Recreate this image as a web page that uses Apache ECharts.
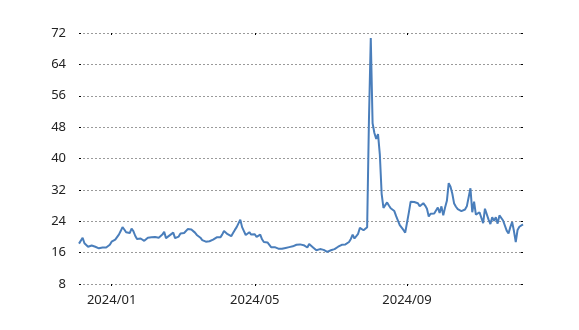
<!DOCTYPE html>
<html>
<head>
<meta charset="utf-8">
<script src="https://cdn.jsdelivr.net/npm/echarts@6/dist/echarts.min.js"></script>
<style>
html,body{margin:0;padding:0;background:#fff;}
#chart{width:579px;height:330px;}
</style>
</head>
<body>
<div id="chart"></div>
<script>
// Trading-day calendar (weekdays minus exchange holidays)
const startDate = '2023-12-06';
const holidays = ['2024-01-01','2024-01-02','2024-01-03','2024-01-08','2024-02-12','2024-02-23',
  '2024-03-20','2024-04-29','2024-05-03','2024-05-06','2024-07-15','2024-08-12','2024-09-16',
  '2024-09-23','2024-10-14','2024-11-04'];
const labelMonths = [1, 5, 9];
const yTicks = [8, 16, 24, 32, 40, 48, 56, 64, 72];

// Index values
const values = [
  18.3,18.8,19.8,18.4,18.2,17.5,18.0,17.8,18.3,17.5,17.0,17.1,17.0,17.3,17.1,17.3,17.6,18.0,18.8,18.6,
  19.3,19.8,20.6,21.5,22.5,21.9,21.2,20.7,21.0,22.1,21.5,20.3,19.5,19.8,19.6,19.3,19.0,19.2,19.8,20.1,
  19.9,20.0,20.0,19.5,
  19.8,20.0,20.6,21.3,19.7,19.8,20.4,20.2,21.1,19.7,19.3,20.1,20.9,21.0,21.0,21.5,22.0,22.1,21.9,21.5,
  21.1,20.5,20.3,19.8,19.2,18.8,18.8,18.7,18.9,18.8,19.3,19.6,19.9,20.1,19.9,20.6,21.5,21.0,20.7,20.6,
  20.2,21.0,21.8,
  22.5,22.6,24.4,22.5,21.5,20.5,20.3,21.2,20.6,20.7,20.7,20.0,19.6,20.6,19.4,18.7,18.6,18.6,18.6,17.4,
  17.2,17.4,17.4,17.0,17.2,17.0,16.8,17.2,17.4,17.4,17.4,17.6,17.8,18.0,18.0,18.1,18.0,17.9,17.7,17.3,
  18.2,17.9,17.4,17.0,
  16.6,16.9,16.9,16.9,16.7,16.3,16.2,16.3,16.6,17.1,16.9,17.3,17.5,17.7,18.0,18.5,18.1,18.0,18.7,19.5,
  20.6,19.6,19.2,20.8,22.3,22.0,21.7,21.7,22.5,50.0,70.7,49.0,46.5,45.0,46.2,41.0,31.0,27.4,
  27.2,28.8,28.0,27.3,27.2,26.6,25.3,24.8,23.0,22.8,21.8,21.1,20.8,26.2,29.0,29.2,28.9,28.7,28.6,27.8,
  28.3,28.6,28.0,27.2,25.2,25.9,25.6,26.0,26.4,27.5,26.1,27.8,25.5,27.5,29.2,33.7,32.8,31.0,28.5,
  27.7,27.1,26.9,26.6,26.5,27.0,27.8,28.2,32.4,26.3,29.0,25.7,25.9,26.3,26.2,23.5,27.2,26.8,24.4,23.3,
  25.0,24.1,25.0,23.4,25.5,26.0,24.2,24.2,21.6,20.9,22.5,23.8,21.5,18.7,21.8,22.6,23.0,23.2
];

function pad(n){ return (n < 10 ? '0' : '') + n; }
function buildDates(start, count) {
  const out = [];
  const d = new Date(start + 'T00:00:00Z');
  while (out.length < count) {
    const wd = d.getUTCDay();
    const s = d.getUTCFullYear() + '-' + pad(d.getUTCMonth() + 1) + '-' + pad(d.getUTCDate());
    if (wd !== 0 && wd !== 6 && holidays.indexOf(s) < 0) out.push(s);
    d.setUTCDate(d.getUTCDate() + 1);
  }
  return out;
}
const dates = buildDates(startDate, values.length);

function isLabelIdx(index) {
  if (index === 0) return false;
  const m = +dates[index].slice(5, 7);
  const pm = +dates[index - 1].slice(5, 7);
  return m !== pm && labelMonths.indexOf(m) >= 0;
}

const font = 'Noto Sans';
const chart = echarts.init(document.getElementById('chart'), null, {renderer: 'canvas'});
chart.setOption({
  animation: false,
  backgroundColor: '#ffffff',
  grid: {left: 79, right: 56, top: 33, bottom: 46, containLabel: false},
  xAxis: [{
    type: 'category',
    position: 'bottom',
    boundaryGap: false,
    data: dates,
    axisLine: {show: false},
    axisTick: {show: true, interval: isLabelIdx, length: 2, lineStyle: {color: '#000'}},
    axisLabel: {
      interval: isLabelIdx,
      margin: 10,
      color: '#222',
      fontSize: 13,
      fontFamily: font,
      formatter: function (v) { return v.slice(0, 4) + '/' + v.slice(5, 7); }
    },
    splitLine: {show: false}
  }, {
    type: 'category',
    position: 'top',
    boundaryGap: false,
    data: dates,
    axisLine: {show: false},
    axisTick: {show: true, inside: true, interval: isLabelIdx, length: 2, lineStyle: {color: '#000'}},
    axisLabel: {show: false},
    splitLine: {show: false}
  }],
  yAxis: [{
    type: 'value',
    min: yTicks[0],
    max: yTicks[yTicks.length - 1],
    interval: 8,
    axisLine: {show: false},
    axisTick: {show: true, inside: true, length: 2, lineStyle: {color: '#000'}},
    axisLabel: {margin: 13, color: '#222', fontSize: 13, fontFamily: font},
    splitLine: {show: true, lineStyle: {color: '#9a9a9a', width: 1, type: [2, 2]}}
  }, {
    type: 'value',
    position: 'right',
    min: yTicks[0],
    max: yTicks[yTicks.length - 1],
    interval: 8,
    axisLine: {show: false},
    axisTick: {show: true, inside: true, length: 2, lineStyle: {color: '#000'}},
    axisLabel: {show: false},
    splitLine: {show: false}
  }],
  series: [{
    type: 'line',
    xAxisIndex: 0,
    yAxisIndex: 0,
    data: values,
    showSymbol: false,
    symbol: 'none',
    lineStyle: {color: '#4a7ebb', width: 2},
    itemStyle: {color: '#4a7ebb'}
  }]
});
</script>
</body>
</html>
